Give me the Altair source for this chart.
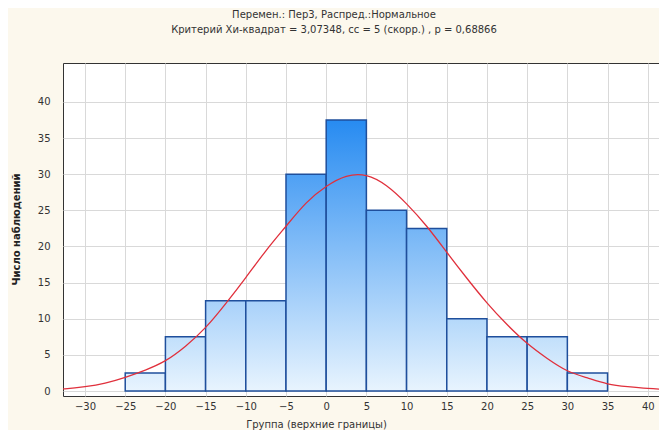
import altair as alt
import pandas as pd

# Histogram bins (lower/upper bounds) and counts
bin_lo = [-25, -20, -15, -10, -5, 0, 5, 10, 15, 20, 25, 30]
bin_hi = [-20, -15, -10, -5, 0, 5, 10, 15, 20, 25, 30, 35]
counts = [2.5, 7.5, 12.5, 12.5, 30, 37.5, 25, 22.5, 10, 7.5, 7.5, 2.5]

# Expected normal curve
curve_x = [-35, -32.5, -30, -27.5, -25, -22.5, -20, -17.5, -15, -12.5, -10, -7.5, -5, -2.5,
           0, 2.5, 5, 7.5, 10, 12.5, 15, 17.5, 20, 22.5, 25, 27.5, 30, 32.5, 35, 37.5, 40, 42.5, 45]
curve_y = [0.15, 0.3, 0.6, 1.1, 1.9, 2.9, 4.2, 6.2, 8.8, 12.1, 15.7, 19.4, 22.8, 26.0,
           28.3, 29.7, 29.8, 28.4, 25.9, 22.8, 19.2, 15.6, 12.2, 9.2, 6.6, 4.5, 2.8, 1.8, 1.0,
           0.6, 0.35, 0.2, 0.1]

x_ticks = [-30, -25, -20, -15, -10, -5, 0, 5, 10, 15, 20, 25, 30, 35, 40]
y_ticks = [0, 5, 10, 15, 20, 25, 30, 35, 40]

title_lines = ["Перемен.: Пер3, Распред.:Нормальное",
               "Критерий Хи-квадрат = 3,07348, сс = 5 (скорр.) , р = 0,68866"]
x_title = "Группа (верхние границы)"
y_title = "Число наблюдений"

FONT = "DejaVu Sans"
TXT = "#333333"
Y_MAX = 44.7

bars = pd.DataFrame({"lo": bin_lo, "hi": bin_hi, "n": counts, "i": range(len(counts))})
curve = pd.DataFrame({"x": curve_x, "y": curve_y})

xscale = alt.Scale(domain=[-32.74, 41.4], nice=False, zero=False)
yscale = alt.Scale(domain=[0, Y_MAX], nice=False)

light = (232, 244, 254)
dark = (26, 132, 240)


def mix(t):
    t = max(0.0, min(1.0, t))
    c = [round(light[k] + (dark[k] - light[k]) * t) for k in range(3)]
    return "#%02x%02x%02x" % tuple(c)


x_axis = alt.Axis(values=x_ticks, title=x_title, grid=True, gridColor="#d9d9d9",
                  tickSize=0, labelPadding=5, labelFont=FONT, labelFontSize=10,
                  labelColor=TXT, titleFont=FONT, titleFontSize=10, titleColor=TXT,
                  titleFontWeight="normal", titleX=253, titleY=28, titleBaseline="middle",
                  domain=False, labelFlush=False)
y_axis = alt.Axis(values=y_ticks, title=y_title, grid=True, gridColor="#d9d9d9",
                  tickSize=0, labelPadding=13, labelFont=FONT, labelFontSize=10,
                  labelColor=TXT, titleFont=FONT, titleFontSize=10, titleColor="#222222",
                  titleFontWeight="bold", titleX=-47, titleY=166, titleAngle=-90,
                  titleAlign="center", titleBaseline="middle", domain=False)

base = alt.Chart(bars)

grid_layer = base.mark_bar(opacity=0).encode(
    x=alt.X("lo:Q", scale=xscale, axis=x_axis),
    x2="hi:Q",
    y=alt.Y("n:Q", scale=yscale, axis=y_axis),
)

bar_layers = []
for i, h in enumerate(counts):
    grad = alt.LinearGradient(
        gradient="linear", x1=0, x2=0, y1=0, y2=1,
        stops=[alt.GradientStop(color=mix(h / 40.0), offset=0),
               alt.GradientStop(color=mix(0), offset=1)],
    )
    bar_layers.append(
        base.transform_filter(alt.datum.i == i).mark_bar(
            color=grad, stroke="#1f4f9c", strokeWidth=1.5
        ).encode(
            x=alt.X("lo:Q", scale=xscale),
            x2="hi:Q",
            y=alt.Y("n:Q", scale=yscale),
            y2=alt.datum(0),
        )
    )

line_layer = alt.Chart(curve).mark_line(
    color="#e0303c", strokeWidth=1.3, interpolate="natural", clip=True
).encode(
    x=alt.X("x:Q", scale=xscale),
    y=alt.Y("y:Q", scale=yscale),
)

chart = alt.layer(grid_layer, *bar_layers, line_layer).properties(
    width=596,
    height=333,
    autosize=alt.AutoSizeParams(type="none"),
    padding={"left": 55, "top": 55, "right": 0, "bottom": 34},
    background="#fcf8ed",
    title=alt.TitleParams(text=title_lines, font=FONT, fontSize=10, color=TXT,
                          fontWeight="normal", anchor="middle", offset=28,
                          lineHeight=15, dx=-27),
).configure_view(
    fill="white", stroke="#333333", strokeWidth=1
)

chart.save("out.html", embed_options={"renderer": "svg", "actions": False})
